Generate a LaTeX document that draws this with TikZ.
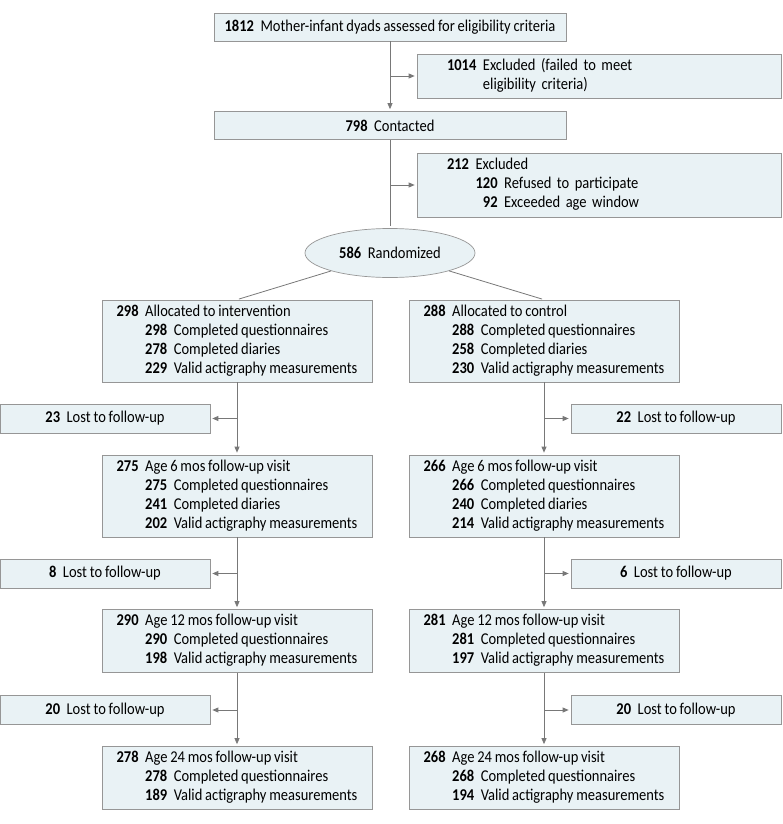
\documentclass[tikz,border=0pt]{standalone}
\usepackage{fontspec}
\setmainfont[FakeStretch=0.88,WordSpace=0.85]{Carlito}
\usetikzlibrary{arrows.meta,positioning,shapes.geometric}

\definecolor{boxfill}{RGB}{233,242,245}
\definecolor{boxline}{RGB}{150,150,150}
\definecolor{flowline}{RGB}{120,120,120}

\newcommand{\cnt}[1]{\textbf{#1}}
\newcommand{\entry}[2]{\cnt{#1}\hspace{6.5pt}#2}
\newenvironment{counts}{\begin{tabular}{@{}r@{\hspace{6.5pt}}r@{\hspace{6.5pt}}l@{}}}{\end{tabular}}

\begin{document}
\begin{tikzpicture}[
  x=1pt, y=-1pt,
  font=\fontsize{16.5}{19}\selectfont,
  >={Triangle[length=6pt,width=5pt]},
  stage/.style={draw=boxline, fill=boxfill, line width=0.7pt, inner sep=0pt, minimum width=352pt, minimum height=28pt, align=center},
  arm/.style={stage, minimum width=270pt, minimum height=82pt},
  armshort/.style={arm, minimum height=63pt},
  lost/.style={stage, minimum width=210pt, minimum height=29pt},
  excl/.style={draw=boxline, fill=boxfill, line width=0.7pt, inner xsep=30pt, inner ysep=0pt, text width=304pt, align=left},
  split/.style={ellipse, draw=boxline, fill=boxfill, line width=0.7pt, inner sep=0pt, minimum width=170pt, minimum height=49pt},
  flow/.style={draw=flowline, line width=0.8pt, shorten >=2pt}
]
\useasboundingbox (0,0) rectangle (783,824);

% enrollment
\node[stage] (assess) at (390,27) {\entry{1812}{Mother-infant dyads assessed for eligibility criteria}};
\node[excl, minimum height=44pt] (excl1) at (599,76)
  {\begin{tabular}{@{}r@{\hspace{6.5pt}}l@{}}\cnt{1014} & Excluded (failed to meet\\ & eligibility criteria)\end{tabular}};
\node[stage] (contact) at (390,125.5) {\entry{798}{Contacted}};
\node[excl, minimum height=64pt] (excl2) at (599,185)
  {\begin{counts}
   \cnt{212} & \multicolumn{2}{@{}l@{}}{Excluded}\\
   & \cnt{120} & Refused to participate\\
   & \cnt{92} & Exceeded age window
   \end{counts}};
\node[split] (rand) at (390,253) {\entry{586}{Randomized}};

% allocation
\node[arm] (allocI) at (237,341) {\begin{counts}
   \cnt{298} & \multicolumn{2}{@{}l@{}}{Allocated to intervention}\\
   & \cnt{298} & Completed questionnaires\\
   & \cnt{278} & Completed diaries\\
   & \cnt{229} & Valid actigraphy measurements
   \end{counts}};
\node[arm] (allocC) at (544,341) {\begin{counts}
   \cnt{288} & \multicolumn{2}{@{}l@{}}{Allocated to control}\\
   & \cnt{288} & Completed questionnaires\\
   & \cnt{258} & Completed diaries\\
   & \cnt{230} & Valid actigraphy measurements
   \end{counts}};

\node[lost] (lostI1) at (105,418.5) {\entry{23}{Lost to follow-up}};
\node[lost] (lostC1) at (676,418.5) {\entry{22}{Lost to follow-up}};

% 6 mos
\node[arm] (sixI) at (237,496) {\begin{counts}
   \cnt{275} & \multicolumn{2}{@{}l@{}}{Age 6 mos follow-up visit}\\
   & \cnt{275} & Completed questionnaires\\
   & \cnt{241} & Completed diaries\\
   & \cnt{202} & Valid actigraphy measurements
   \end{counts}};
\node[arm] (sixC) at (544,496) {\begin{counts}
   \cnt{266} & \multicolumn{2}{@{}l@{}}{Age 6 mos follow-up visit}\\
   & \cnt{266} & Completed questionnaires\\
   & \cnt{240} & Completed diaries\\
   & \cnt{214} & Valid actigraphy measurements
   \end{counts}};

\node[lost] (lostI2) at (105,573.5) {\entry{8}{Lost to follow-up}};
\node[lost] (lostC2) at (676,573.5) {\entry{6}{Lost to follow-up}};

% 12 mos
\node[armshort] (twelveI) at (237,641) {\begin{counts}
   \cnt{290} & \multicolumn{2}{@{}l@{}}{Age 12 mos follow-up visit}\\
   & \cnt{290} & Completed questionnaires\\
   & \cnt{198} & Valid actigraphy measurements
   \end{counts}};
\node[armshort] (twelveC) at (544,641) {\begin{counts}
   \cnt{281} & \multicolumn{2}{@{}l@{}}{Age 12 mos follow-up visit}\\
   & \cnt{281} & Completed questionnaires\\
   & \cnt{197} & Valid actigraphy measurements
   \end{counts}};

\node[lost] (lostI3) at (105,710) {\entry{20}{Lost to follow-up}};
\node[lost] (lostC3) at (676,710) {\entry{20}{Lost to follow-up}};

% 24 mos
\node[armshort] (twentyfourI) at (237,778) {\begin{counts}
   \cnt{278} & \multicolumn{2}{@{}l@{}}{Age 24 mos follow-up visit}\\
   & \cnt{278} & Completed questionnaires\\
   & \cnt{189} & Valid actigraphy measurements
   \end{counts}};
\node[armshort] (twentyfourC) at (544,778) {\begin{counts}
   \cnt{268} & \multicolumn{2}{@{}l@{}}{Age 24 mos follow-up visit}\\
   & \cnt{268} & Completed questionnaires\\
   & \cnt{194} & Valid actigraphy measurements
   \end{counts}};

% connectors
\draw[flow,->] (assess) -- (contact);
\draw[flow,->] (assess.south |- excl1.west) -- (excl1.west);
\draw[flow] (contact) -- (rand);
\draw[flow,->] (contact.south |- excl2.west) -- (excl2.west);
\draw[flow] (rand) -- (allocI.north);
\draw[flow] (rand) -- (allocC.north);

\draw[flow,->] (allocI) -- (sixI);
\draw[flow,->] (allocI.south |- lostI1.east) -- (lostI1.east);
\draw[flow,->] (allocC) -- (sixC);
\draw[flow,->] (allocC.south |- lostC1.west) -- (lostC1.west);

\draw[flow,->] (sixI) -- (twelveI);
\draw[flow,->] (sixI.south |- lostI2.east) -- (lostI2.east);
\draw[flow,->] (sixC) -- (twelveC);
\draw[flow,->] (sixC.south |- lostC2.west) -- (lostC2.west);

\draw[flow,->] (twelveI) -- (twentyfourI);
\draw[flow,->] (twelveI.south |- lostI3.east) -- (lostI3.east);
\draw[flow,->] (twelveC) -- (twentyfourC);
\draw[flow,->] (twelveC.south |- lostC3.west) -- (lostC3.west);

\end{tikzpicture}
\end{document}
